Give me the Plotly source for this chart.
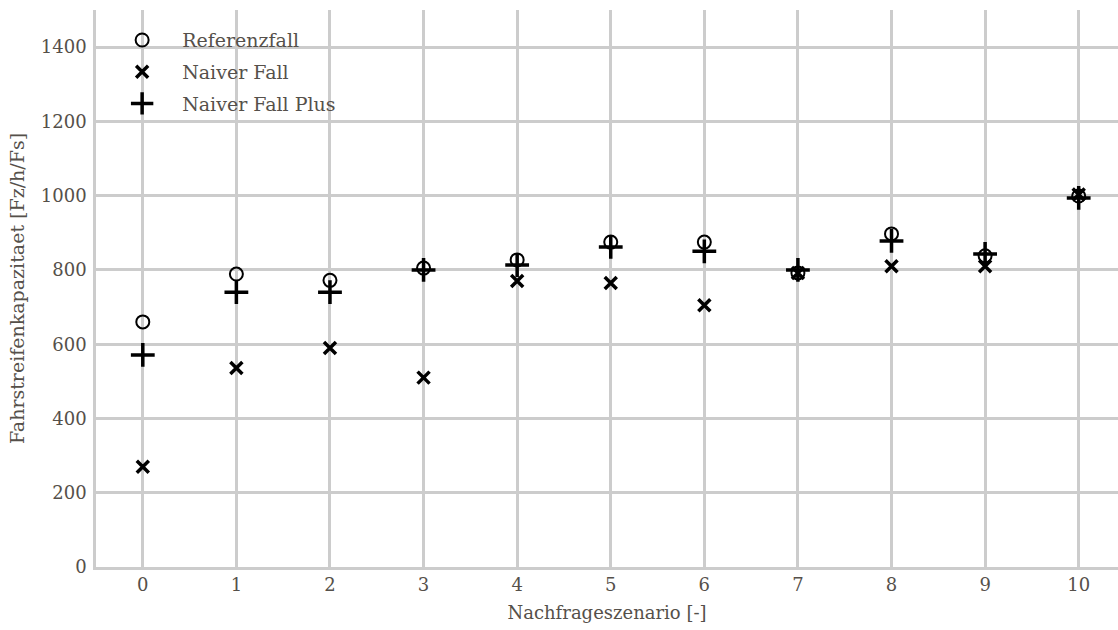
import plotly.graph_objects as go

szenario = [0, 1, 2, 3, 4, 5, 6, 7, 8, 9, 10]
referenzfall = [660, 789, 772, 805, 827, 875, 875, 792, 897, 838, 999]
naiver_fall = [270, 536, 590, 510, 770, 765, 705, 792, 810, 810, 1003]
naiver_fall_plus = [571, 740, 740, 800, 813, 862, 850, 800, 878, 843, 994]
y_ticks = [0, 200, 400, 600, 800, 1000, 1200, 1400]

font_family = "DejaVu Serif"
text_color = "#55504a"
grid_color = "#cccccc"

fig = go.Figure()
fig.add_trace(go.Scatter(
    x=szenario, y=referenzfall, mode="markers", name="Referenzfall",
    marker=dict(symbol="circle-open", size=13, color="black", line=dict(width=2, color="black")),
    legendgroup="a"))
fig.add_trace(go.Scatter(
    x=szenario, y=naiver_fall, mode="markers", name="Naiver Fall",
    marker=dict(symbol="x-thin", size=12, color="black", line=dict(width=3.5, color="black")),
    legendgroup="b"))
fig.add_trace(go.Scatter(
    x=szenario, y=naiver_fall_plus, mode="markers", name="Naiver Fall Plus",
    marker=dict(symbol="cross-thin", size=17, color="black", line=dict(width=3.5, color="black")),
    legendgroup="c"))

fig.update_layout(
    width=1118, height=630,
    margin=dict(l=96, r=0, t=10, b=63),
    paper_bgcolor="white", plot_bgcolor="white",
    font=dict(family=font_family, size=18, color=text_color),
    showlegend=True,
    legend=dict(x=0.006, y=0.98, xanchor="left", yanchor="top",
                bgcolor="rgba(0,0,0,0)", borderwidth=0,
                font=dict(size=19, color=text_color),
                itemwidth=70, tracegroupgap=4, traceorder="grouped"),
    xaxis=dict(range=[-0.5, 10.42], tickvals=szenario, showgrid=True,
               gridcolor=grid_color, gridwidth=2.5, zeroline=False,
               showline=True, linecolor=grid_color, linewidth=2.5,
               ticks="", tickfont=dict(size=18, color=text_color),
               title=dict(text="Nachfrageszenario [-]", standoff=13,
                          font=dict(size=18, color=text_color))),
    yaxis=dict(range=[0, 1500], tickvals=y_ticks, showgrid=True,
               gridcolor=grid_color, gridwidth=2.5, zeroline=False,
               showline=True, linecolor=grid_color, linewidth=2.5,
               ticks="", ticklabelstandoff=3, tickfont=dict(size=18, color=text_color),
               title=dict(text="Fahrstreifenkapazitaet [Fz/h/Fs]", standoff=12,
                          font=dict(size=19, color=text_color))),
)

fig.write_html("out.html")
